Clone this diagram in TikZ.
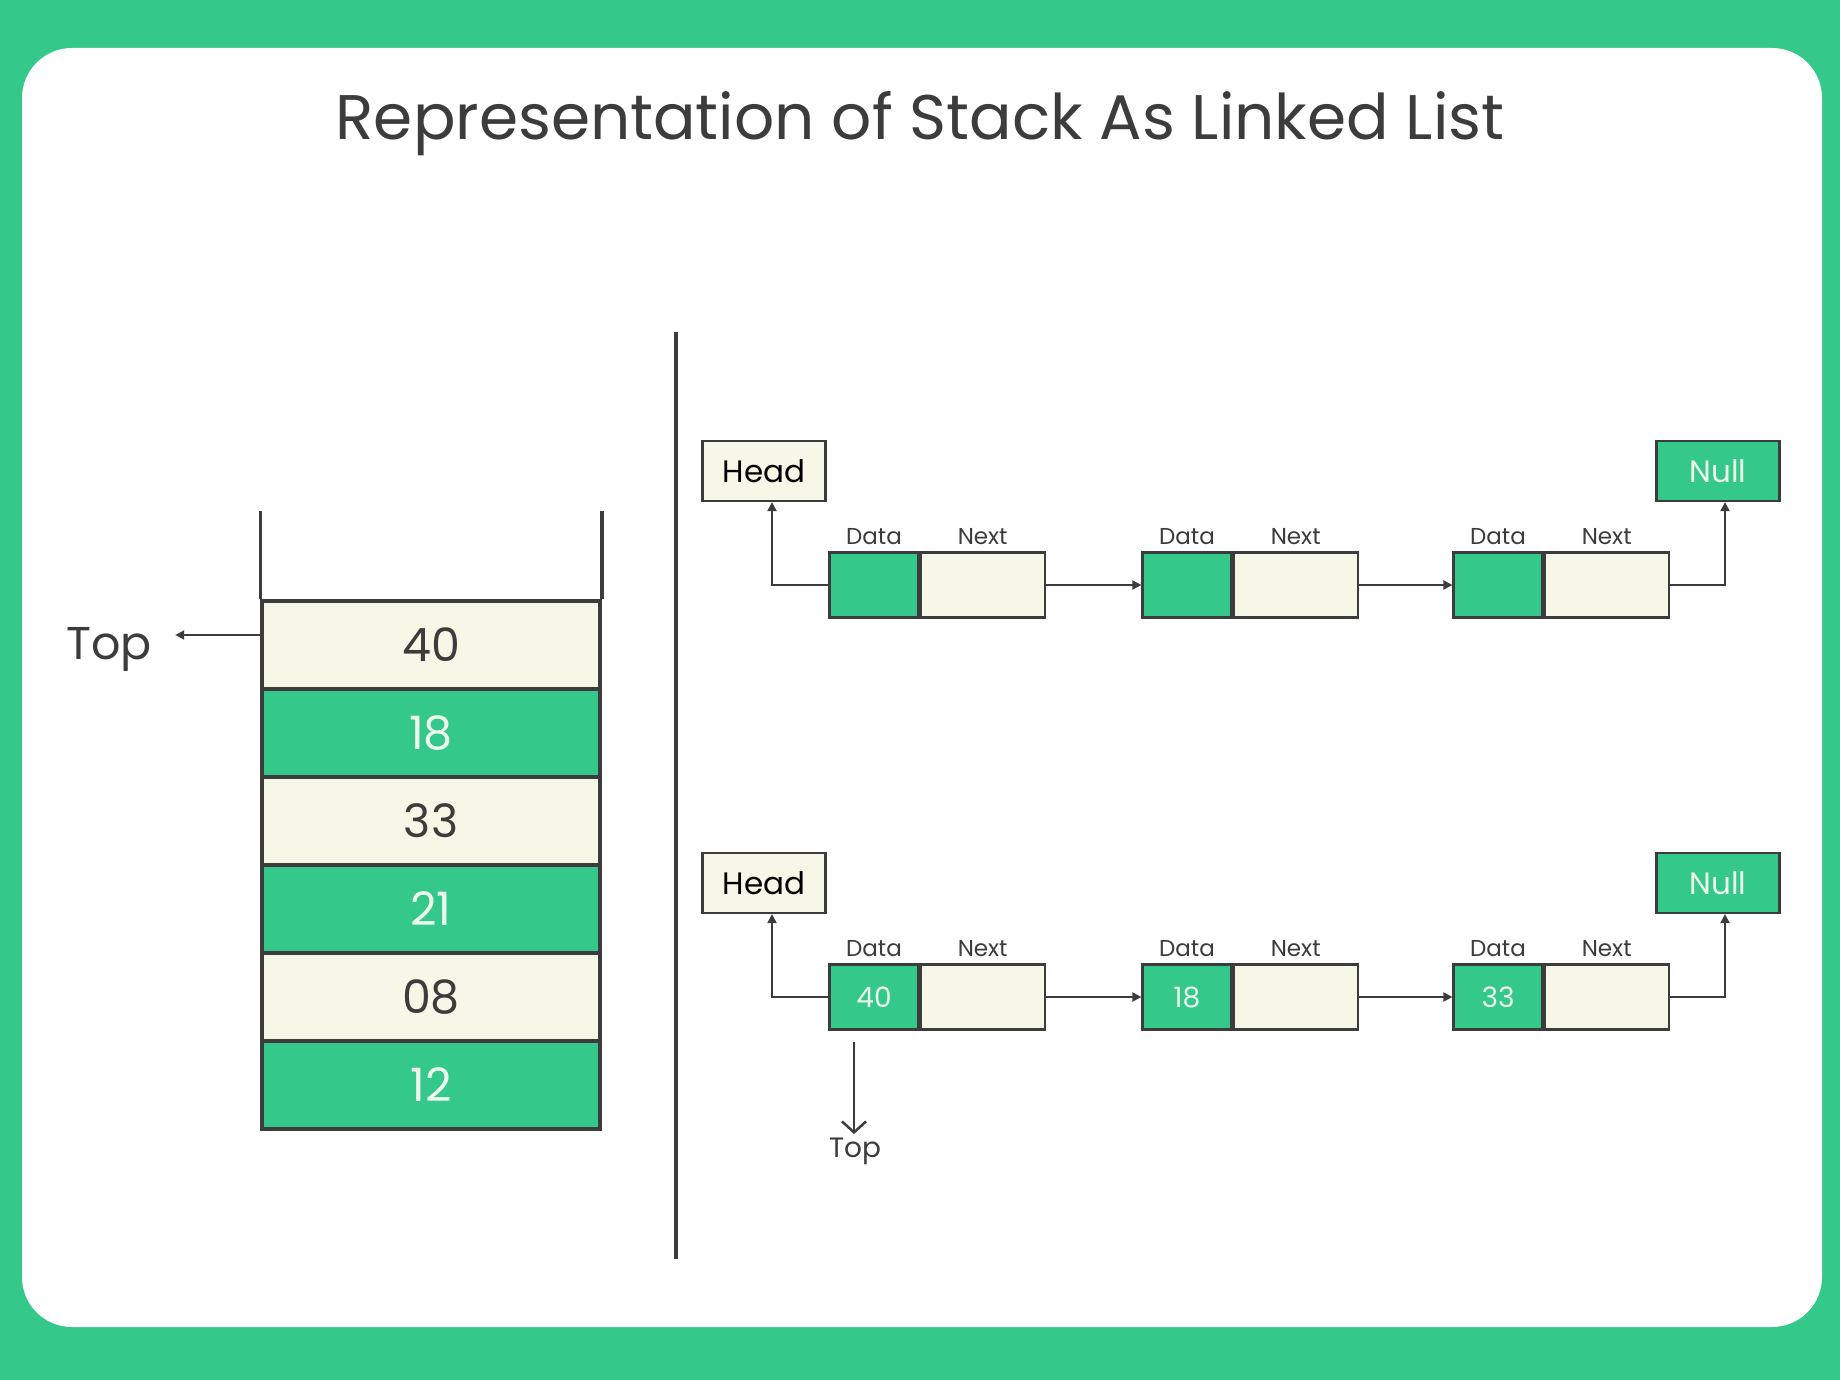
\documentclass[tikz,border=0pt]{standalone}
\usepackage{fontspec}
\setmainfont{Poppins}
\usetikzlibrary{arrows.meta, positioning}
\definecolor{ggreen}{HTML}{34C88A}
\definecolor{cream}{HTML}{F7F7E7}
\definecolor{ink}{HTML}{3C3C3C}
\definecolor{pale}{HTML}{EEF8EC}

\begin{document}
\begin{tikzpicture}[x=1pt, y=-1pt,
    >={Triangle[length=9pt, width=9pt]},
    cell/.style={draw=ink, line width=3.5pt, minimum width=338pt, minimum height=88pt,
                 inner sep=0pt, font=\fontsize{46}{50}\selectfont},
    dbox/.style={draw=ink, line width=2.2pt, fill=ggreen, text=pale, minimum width=89pt,
                 minimum height=65pt, inner sep=0pt, font=\fontsize{28}{30}\selectfont},
    nbox/.style={draw=ink, line width=2.2pt, fill=cream, minimum width=124pt,
                 minimum height=65pt, inner sep=0pt},
    tag/.style={draw=ink, line width=2.2pt, minimum width=123pt, minimum height=60pt,
                inner sep=0pt, font=\fontsize{31}{34}\selectfont},
    lab/.style={font=\fontsize{23}{24}\selectfont, text=ink},
    link/.style={->, line width=2pt, draw=ink},
]
\useasboundingbox (0,0) rectangle (1840,1380);
\fill[ggreen] (0,0) rectangle (1840,1380);
\fill[white, rounded corners=50pt] (22,48) rectangle (1822,1327);

\node[font=\fontsize{63}{66}\selectfont, text=ink] (title) at (920,124)
   {Representation of Stack As Linked List};

% stack
\foreach \v/\f/\t [count=\i] in {40/cream/ink, 18/ggreen/pale, 33/cream/ink,
                                  21/ggreen/pale, 08/cream/ink, 12/ggreen/pale}
  \node[cell, fill=\f, text=\t] (s\i) at (431, 557+88*\i) {\v};
\draw[ink, line width=3.5pt] (s1.north west) -- ++(0,-88);
\draw[ink, line width=3.5pt] (s1.north east) -- ++(0,-88);

\node[font=\fontsize{46}{50}\selectfont, text=ink] (topa) at (109,649) {Top};
\draw[link, shorten >=20pt] ([yshift=10pt]s1.west) coordinate (ta)
   -- (ta -| topa.east);

\draw[ink, line width=3.5pt] (676,332) -- (676,1259);

% empty list
\node[tag, fill=cream] (heada) at (764,471) {Head};
\node[tag, fill=ggreen, text=pale] (nulla) at (1718,471) {Null};
\foreach \i/\x in {1/874, 2/1187, 3/1498} {
  \node[dbox, label={[lab, label distance=3pt]above:Data}] (a\i) at (\x,585) {};
  \node[nbox, label={[lab, label distance=3pt]above:Next}, anchor=west] (an\i) at (a\i.east) {};
}
\draw[link] (an1.east) -- (a2.west);
\draw[link] (an2.east) -- (a3.west);
\draw[link] (a1.west) -| ([xshift=8pt]heada.south);
\draw[link] (an3.east) -| ([xshift=7pt]nulla.south);

% list holding the stack
\node[tag, fill=cream] (headb) at (764,883) {Head};
\node[tag, fill=ggreen, text=pale] (nullb) at (1718,883) {Null};
\foreach \i/\x/\v in {1/874/40, 2/1187/18, 3/1498/33} {
  \node[dbox, label={[lab, label distance=3pt]above:Data}] (b\i) at (\x,997) {\v};
  \node[nbox, label={[lab, label distance=3pt]above:Next}, anchor=west] (bn\i) at (b\i.east) {};
}
\draw[link] (bn1.east) -- (b2.west);
\draw[link] (bn2.east) -- (b3.west);
\draw[link] (b1.west) -| ([xshift=8pt]headb.south);
\draw[link] (bn3.east) -| ([xshift=7pt]nullb.south);

\node[font=\fontsize{28}{30}\selectfont, text=ink] (topb) at (855,1151) {Top};
\draw[ink, line width=2.5pt, -{Straight Barb[length=11pt, width=24pt]}]
   ([xshift=-20pt, yshift=-11pt]b1.south) coordinate (tb) -- (tb |- topb.north);

\end{tikzpicture}
\end{document}
